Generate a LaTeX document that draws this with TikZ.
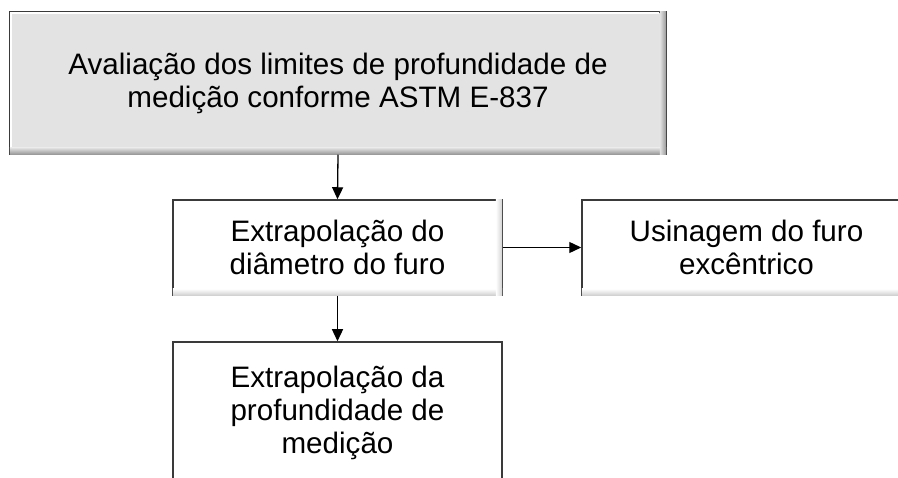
\documentclass[tikz,border=0pt]{standalone}
\usepackage{fontspec}
\setmainfont{Liberation Sans}
\usetikzlibrary{arrows.meta,calc}
\definecolor{boxgray}{HTML}{E3E3E3}
\definecolor{edgecol}{HTML}{3A3A3A}
\definecolor{shadedark}{HTML}{9A9A9A}
\definecolor{shadelight}{HTML}{D2D2D2}
\newcommand\bevelbox[3]{%
  \shade[top color=#2, bottom color=#3] ([shift={(0.7pt,0.7pt)}]#1.south west) rectangle ([shift={(-0.7pt,7pt)}]#1.south east);
  \shade[left color=#2, right color=#3] ([shift={(-7pt,0.7pt)}]#1.south east) rectangle ([shift={(-0.7pt,-0.7pt)}]#1.north east);
}
\begin{document}
\begin{tikzpicture}[x=1pt,y=-1pt,
  flowbox/.style={draw=edgecol, line width=1.5pt, align=center, inner sep=0pt, text=black,
    font=\fontsize{29.6}{33}\selectfont},
  arr/.style={-{Triangle[length=12pt,width=11pt]}, line width=1.3pt, draw=black}]
\useasboundingbox (0,0) rectangle (898,478);
\clip (0,0) rectangle (898,478);
\node[flowbox, fill=boxgray, minimum width=656pt, minimum height=142pt] (eval) at (338,83)
  {Avaliação dos limites de profundidade de\\medição conforme ASTM E-837};
\draw[white, line width=2pt] ([shift={(2pt,2pt)}]eval.south west) -- ([shift={(2pt,-2pt)}]eval.north west) -- ([shift={(-8pt,-2pt)}]eval.north east);
\bevelbox{eval}{boxgray}{shadedark}
\node[flowbox, fill=white, minimum width=329pt, minimum height=95pt] (diam) at (337.5,247.5)
  {Extrapolação do\\diâmetro do furo};
\bevelbox{diam}{white}{shadelight}
\node[flowbox, fill=white, minimum width=329pt, minimum height=95pt] (usin) at (746.5,247.5)
  {Usinagem do furo\\excêntrico};
\bevelbox{usin}{white}{shadelight}
\node[flowbox, fill=white, minimum width=329pt, minimum height=141pt] (prof) at (337.5,412.5)
  {Extrapolação da\\profundidade de\\medição};
\draw[arr] (eval.south) -- (diam.north);
\draw[arr] (diam.east) -- (usin.west);
\draw[arr] (diam.south) -- (prof.north);
\end{tikzpicture}
\end{document}
